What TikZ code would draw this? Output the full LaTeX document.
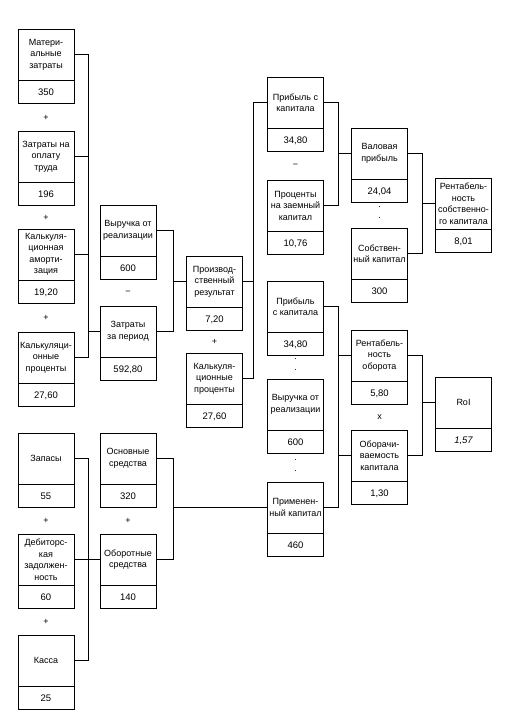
\documentclass[tikz,border=0pt]{standalone}
\usepackage{fontspec}
\setmainfont{Liberation Sans}
\usetikzlibrary{positioning,calc}
\tikzset{
  cell/.style={rectangle,draw,line width=0.9pt,minimum width=56pt,minimum height=51pt,inner sep=1pt,align=center,font=\fontsize{9}{11.5}\selectfont},
  val/.style={rectangle,draw,line width=0.9pt,minimum width=56pt,minimum height=23pt,inner sep=1pt,font=\fontsize{9.5}{11}\selectfont},
  op/.style={inner sep=0pt,font=\fontsize{9}{11}\selectfont},
  dots/.style={inner sep=0pt,align=center,yshift=2.5pt,font=\fontsize{9}{11}\selectfont},
  wire/.style={line width=0.8pt}
}

\begin{document}
\begin{tikzpicture}[x=1pt,y=-1pt]
\useasboundingbox (0,0) rectangle (513,716);
\node[cell] (mat) at (46,54.5) {Матери-\\альные\\затраты}; \node[val,below=0pt of mat] (matv) {350};
\node[cell] (zot) at (46,156.5) {Затраты на\\оплату\\труда}; \node[val,below=0pt of zot] (zotv) {196};
\node[cell] (amo) at (46,254.5) {Калькуля-\\ционная\\аморти-\\зация}; \node[val,below=0pt of amo] (amov) {19,20};
\node[cell] (kpr) at (46,357.5) {Калькуляци-\\онные\\проценты}; \node[val,below=0pt of kpr] (kprv) {27,60};
\node[cell] (zps) at (46,458.5) {Запасы}; \node[val,below=0pt of zps] (zpsv) {55};
\node[cell] (deb) at (46,559.5) {Дебиторс-\\кая\\задолжен-\\ность}; \node[val,below=0pt of deb] (debv) {60};
\node[cell] (kas) at (46,660.5) {Касса}; \node[val,below=0pt of kas] (kasv) {25};
\node[cell] (vyr) at (128,230.5) {Выручка от\\реализации}; \node[val,below=0pt of vyr] (vyrv) {600};
\node[cell] (zpe) at (128,331.5) {Затраты\\за период}; \node[val,below=0pt of zpe] (zpev) {592,80};
\node[cell] (osn) at (128,458.5) {Основные\\средства}; \node[val,below=0pt of osn] (osnv) {320};
\node[cell] (obs) at (128,559.5) {Оборотные\\средства}; \node[val,below=0pt of obs] (obsv) {140};
\node[cell] (pro) at (214.5,281.5) {Производ-\\ственный\\результат}; \node[val,below=0pt of pro] (prov) {7,20};
\node[cell] (kpc) at (214.5,378.5) {Калькуля-\\ционные\\проценты}; \node[val,below=0pt of kpc] (kpcv) {27,60};
\node[cell] (pkv) at (295.5,102.5) {Прибыль с\\капитала}; \node[val,below=0pt of pkv] (pkvv) {34,80};
\node[cell] (pzk) at (295.5,205.5) {Проценты\\на заемный\\капитал}; \node[val,below=0pt of pzk] (pzkv) {10,76};
\node[cell] (pk2) at (295.5,306.5) {Прибыль\\с капитала}; \node[val,below=0pt of pk2] (pk2v) {34,80};
\node[cell] (vr2) at (295.5,404.5) {Выручка от\\реализации}; \node[val,below=0pt of vr2] (vr2v) {600};
\node[cell] (prk) at (295.5,507.5) {Применен-\\ный капитал}; \node[val,below=0pt of prk] (prkv) {460};
\node[cell] (vpr) at (379.5,153.5) {Валовая\\прибыль}; \node[val,below=0pt of vpr] (vprv) {24,04};
\node[cell] (sok) at (379.5,253.5) {Собствен-\\ный капитал}; \node[val,below=0pt of sok] (sokv) {300};
\node[cell] (ro) at (379.5,355.5) {Рентабель-\\ность\\оборота}; \node[val,below=0pt of ro] (rov) {5,80};
\node[cell] (ok) at (379.5,455.5) {Оборачи-\\ваемость\\капитала}; \node[val,below=0pt of ok] (okv) {1,30};
\node[cell] (rsk) at (463.5,203.5) {Рентабель-\\ность\\собственно-\\го капитала}; \node[val,below=0pt of rsk] (rskv) {8,01};
\node[cell] (roi) at (463.5,402.5) {RoI}; \node[val,below=0pt of roi] (roiv) {\itshape 1,57};
\node[op] (o1) at ($(matv.south)!.5!(zot.north)$) {+};
\node[op] (o2) at ($(zotv.south)!.5!(amo.north)$) {+};
\node[op] (o3) at ($(amov.south)!.5!(kpr.north)$) {+};
\node[op] (o4) at ($(zpsv.south)!.5!(deb.north)$) {+};
\node[op] (o5) at ($(debv.south)!.5!(kas.north)$) {+};
\node[op] (o6) at ($(vyrv.south)!.5!(zpe.north)$) {−};
\node[op] (o7) at ($(osnv.south)!.5!(obs.north)$) {+};
\node[op] (o8) at ($(prov.south)!.5!(kpc.north)$) {+};
\node[op] (o9) at ($(pkvv.south)!.5!(pzk.north)$) {−};
\node[dots] (o10) at ($(pk2v.south)!.5!(vr2.north)$) {.\\.};
\node[dots] (o11) at ($(vr2v.south)!.5!(prk.north)$) {.\\.};
\node[dots] (o12) at ($(vprv.south)!.5!(sok.north)$) {.\\.};
\node[op] (o13) at ($(rov.south)!.5!(ok.north)$) {x};
\coordinate (busa) at (88,0); \coordinate (busb) at (173,0); \coordinate (busc) at (253,0);
\coordinate (busd) at (338,0); \coordinate (buse) at (422.5,0);
\draw[wire] (mat.east) -| (busa |- kpr.east) -- (kpr.east);
\draw[wire] (zot.east) -- (zot.east -| busa); \draw[wire] (amo.east) -- (amo.east -| busa);
\draw[wire] (zpe.west -| busa) -- (zpe.west);
\draw[wire] (vyr.east) -| (busb |- zpe.east) -- (zpe.east); \draw[wire] (pro.west -| busb) -- (pro.west);
\draw[wire] (pkv.west) -| (busc |- kpc.east) -- (kpc.east); \draw[wire] (pro.east) -- (pro.east -| busc);
\draw[wire] (pkv.east) -| (busd |- pzk.east) -- (pzk.east); \draw[wire] (vpr.west -| busd) -- (vpr.west);
\draw[wire] (vpr.east) -| (buse |- sok.east) -- (sok.east); \draw[wire] (rsk.west -| buse) -- (rsk.west);
\draw[wire] (pk2.east) -| (busd |- prk.east) -- (prk.east);
\draw[wire] (ro.west -| busd) -- (ro.west); \draw[wire] (ok.west -| busd) -- (ok.west);
\draw[wire] (ro.east) -| (buse |- ok.east) -- (ok.east); \draw[wire] (roi.west -| buse) -- (roi.west);
\draw[wire] (zps.east) -| (busa |- kas.east) -- (kas.east); \draw[wire] (deb.east) -- (obs.west);
\draw[wire] (osn.east) -| (busb |- obs.east) -- (obs.east); \draw[wire] (prk.west -| busb) -- (prk.west);
\end{tikzpicture}
\end{document}
